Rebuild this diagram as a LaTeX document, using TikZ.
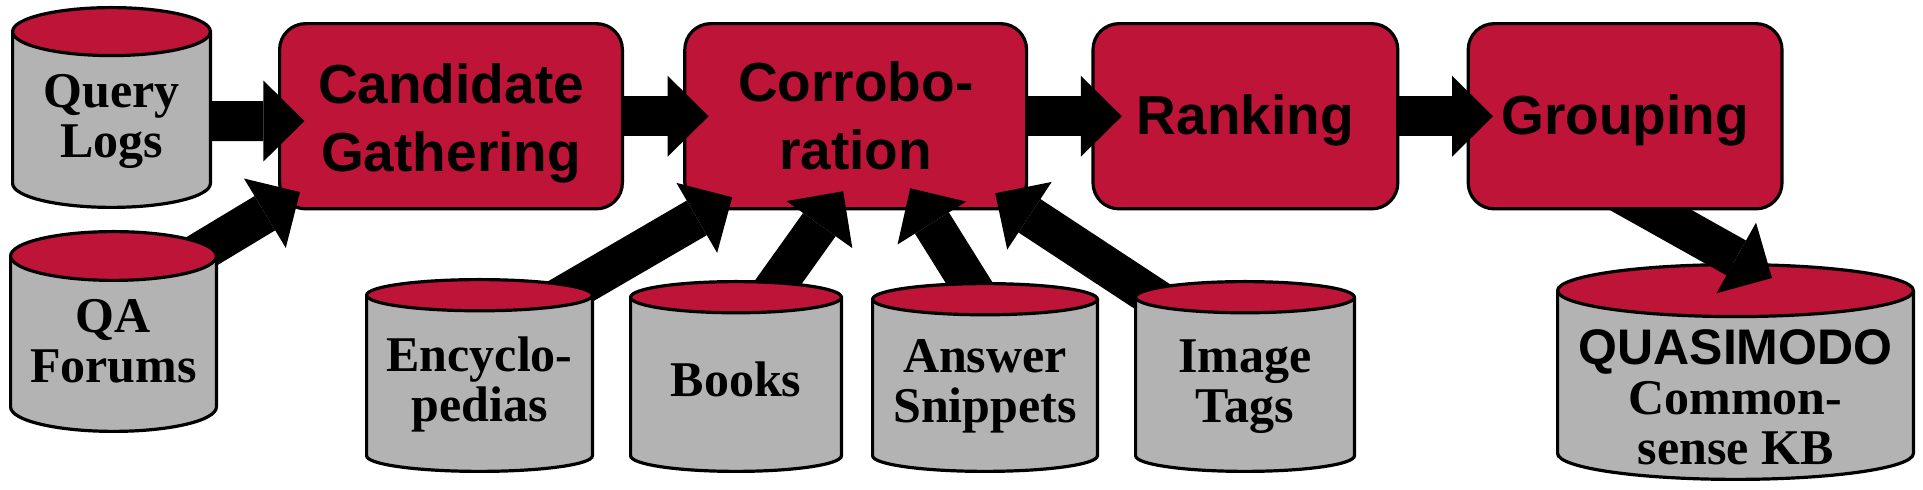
\documentclass[tikz,border=0pt]{standalone}
\usepackage{fontspec}
\setmainfont{Liberation Serif}
\setsansfont{Liberation Sans}
\usetikzlibrary{arrows.meta, positioning, calc}

\definecolor{boxred}{RGB}{190,20,56}
\definecolor{drumgray}{RGB}{179,179,179}

\newcommand{\stagefont}{\sffamily\bfseries\fontsize{27.5pt}{34pt}\selectfont}
\newcommand{\drumfont}{\rmfamily\bfseries\fontsize{25pt}{25pt}\selectfont}

\pgfdeclarelayer{kbbottom}
\pgfdeclarelayer{feed}
\pgfdeclarelayer{pipes}
\pgfdeclarelayer{sources}
\pgfsetlayers{kbbottom,feed,main,pipes,sources}

\tikzstyle{stage} = [draw, line width=1.6pt, fill=boxred, rounded corners=13pt,
   minimum height=92.6pt, inner sep=0pt, align=center, font=\stagefont]
\tikzstyle{pipe} = [line width=20pt,
   -{Triangle[length=20.5pt, width=40.5pt, line width=0pt]}]
\tikzset{drum/.style={rectangle, inner sep=0pt, align=center, font=\drumfont,
   path picture={
     \path (path picture bounding box.north west) ++(0.8pt,-0.8pt) coordinate (dtl)
           (path picture bounding box.south east) ++(-0.8pt,0.8pt) coordinate (dbr);
     % body first, lid on top
     \fill[drumgray] let \p1=(dtl), \p2=(dbr), \n1={(\x2-\x1)/2} in
       (\x1,\y1-#1) -- (\x1,\y2+#1)
       arc[start angle=180, end angle=360, x radius=\n1, y radius=#1]
       -- (\x2,\y1-#1) -- cycle;
     \draw[line width=1.6pt] let \p1=(dtl), \p2=(dbr), \n1={(\x2-\x1)/2} in
       (\x1,\y1-#1) -- (\x1,\y2+#1)
       arc[start angle=180, end angle=360, x radius=\n1, y radius=#1]
       -- (\x2,\y1-#1);
     \filldraw[fill=boxred, line width=1.6pt] let \p1=(dtl), \p2=(dbr), \n1={(\x2-\x1)/2} in
       (\x1+\n1,\y1-#1) ellipse[x radius=\n1, y radius=#1];
   }}}

\begin{document}
\begin{tikzpicture}[x=0.5pt, y=-0.5pt]
  \useasboundingbox (0,0) rectangle (1923,490);

  % processing stages
  \node[stage, minimum width=171.4pt, text height=60pt, text depth=4.25pt] (cand) at (451,116.25) {Candidate\\Gathering};
  \node[stage, minimum width=170.9pt, text height=60pt, text depth=6.25pt, right=29.6pt of cand] (corr) {Corrobo-\\ration};
  \node[stage, minimum width=152.4pt, text height=28.75pt, text depth=10pt, right=31.6pt of corr] (rank) {Ranking};
  \node[stage, minimum width=156.9pt, text height=28.75pt, text depth=10pt, right=33.6pt of rank] (group) {Grouping};

  % sources sit above the pipes
  \begin{pgfonlayer}{sources}
    \node[drum=12pt, minimum width=100.5pt, minimum height=101.5pt, text height=60pt, text depth=9.5pt] (logs) at (111.5,107.5) {Query\\Logs};
    \node[drum=12.2pt, minimum width=104.5pt, minimum height=101.5pt, text height=60pt, text depth=8.5pt] (forums) at (113.5,331.5) {QA\\Forums};
    \node[drum=7.8pt, minimum width=114.5pt, minimum height=97.5pt, text height=60pt, text depth=13.5pt] (encyc) at (479.5,375.5) {Encyclo-\\pedias};
    \node[drum=7.8pt, minimum width=107pt, minimum height=96.5pt, text height=30pt, text depth=9.5pt] (books) at (736,376.5) {Books};
    \node[drum=7.8pt, minimum width=114pt, minimum height=95.5pt, text height=60pt, text depth=14.5pt] (snippets) at (985,377.5) {Answer\\Snippets};
    \node[drum=7.8pt, minimum width=111pt, minimum height=96.5pt, text height=60pt, text depth=13.5pt] (tags) at (1245,376.5) {Image\\Tags};
  \end{pgfonlayer}

  % result, under its arrow
  \begin{pgfonlayer}{kbbottom}
    \node[drum=13pt, minimum width=179.5pt, minimum height=109pt, text height=100pt, text depth=7pt] (kb) at (1735.5,372) {{\sffamily QUASIMODO}\\Common-\\sense KB};
  \end{pgfonlayer}

  % pipes
  \begin{pgfonlayer}{pipes}
    \draw[pipe] ([yshift=-6.75pt]logs.center) -- ([shift={(13.2pt,-2.4pt)}]cand.west);
    \draw[pipe] ([shift={(20.5pt,25.9pt)}]forums.center) -- ([shift={(-75.5pt,-37.9pt)}]cand.center);
    \draw[pipe] (cand.east) -- ([xshift=12.7pt]corr.west);
    \draw[pipe] (corr.east) -- ([xshift=15.2pt]rank.west);
    \draw[pipe] (rank.east) -- ([xshift=13.2pt]group.west);
    \draw[pipe] ([shift={(38.75pt,38.15pt)}]encyc.center) -- ([shift={(-61.75pt,-40.5pt)}]corr.center);
    \draw[pipe] ([shift={(9.5pt,30.85pt)}]books.center) -- ([shift={(-6.25pt,-37.5pt)}]corr.center);
    \draw[pipe] ([shift={(1.8pt,31.8pt)}]snippets.center) -- ([shift={(27.25pt,-36pt)}]corr.center);
    \draw[pipe] ([shift={(-30pt,29.25pt)}]tags.center) -- ([shift={(69.75pt,-38.5pt)}]corr.center);
  \end{pgfonlayer}
  % this one starts under the Grouping box
  \begin{pgfonlayer}{feed}
    \draw[pipe] ([shift={(-28.25pt,-23.9pt)}]group.center) -- ([shift={(18.25pt,47pt)}]kb.center);
  \end{pgfonlayer}
\end{tikzpicture}
\end{document}
